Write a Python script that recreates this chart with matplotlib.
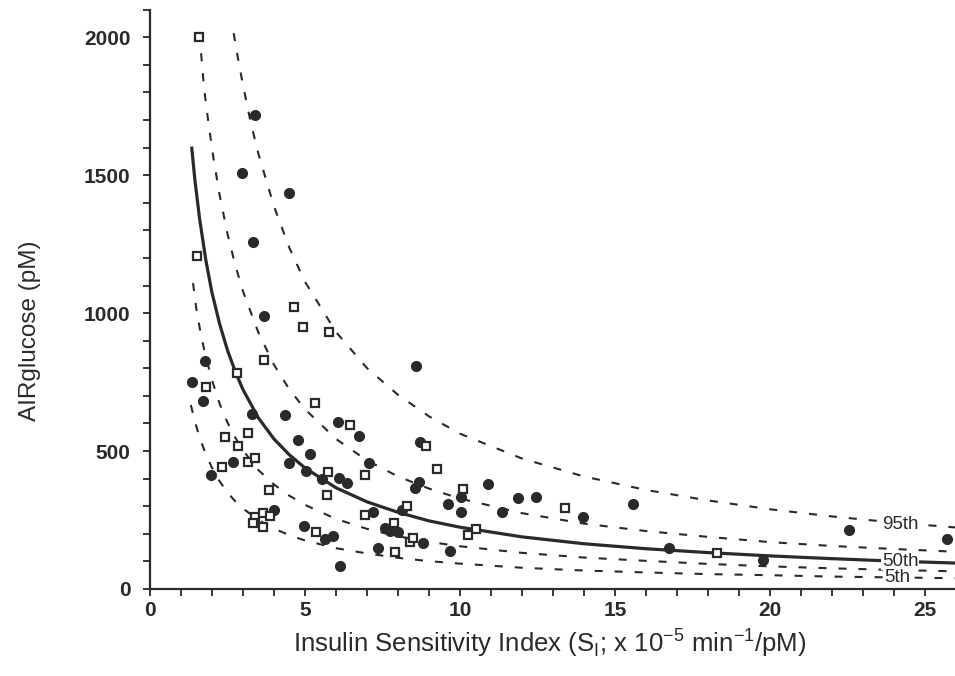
import matplotlib
matplotlib.use("Agg")
import matplotlib.pyplot as plt
from matplotlib.ticker import MultipleLocator

# filled circles
filled_x = [3.39, 2.97, 4.48, 3.32, 3.68, 1.77, 1.35, 1.71, 3.29, 4.35, 4.77, 5.16, 4.48,
            2.68, 5.03, 1.97, 4.0, 4.97, 5.65, 5.9, 6.13, 8.58, 6.06, 6.74, 7.06, 5.55,
            6.1, 6.35, 8.71, 8.68, 8.55, 10.03, 9.61, 10.03, 8.13, 7.19, 7.58, 7.74, 8.0,
            8.81, 9.68, 7.35, 10.9, 11.87, 12.45, 11.35, 13.97, 15.58, 16.74, 19.77,
            22.55, 25.71]
filled_y = [1717, 1507, 1435, 1257, 989, 826, 750, 681, 634, 630, 540, 489, 457,
            460, 428, 413, 286, 228, 181, 192, 83, 808, 605, 554, 457, 399,
            402, 384, 533, 388, 366, 333, 308, 279, 286, 279, 221, 210, 207,
            167, 138, 149, 380, 330, 333, 279, 261, 308, 149, 105,
            214, 181]

# open squares
open_x = [1.58, 1.52, 1.81, 2.81, 4.65, 4.94, 5.77, 3.68, 5.32, 2.42, 3.16, 2.84, 3.16,
          3.39, 2.32, 3.84, 3.39, 3.65, 3.87, 3.32, 3.65, 5.35, 6.45, 8.9, 5.74, 6.94,
          9.26, 10.1, 5.71, 8.29, 6.94, 10.52, 10.26, 7.87, 8.39, 8.48, 7.9, 13.39, 18.29]
open_y = [2000, 1207, 732, 783, 1022, 949, 931, 830, 674, 551, 565, 518, 460,
          475, 442, 359, 261, 275, 264, 239, 225, 207, 594, 518, 424, 413,
          435, 362, 341, 301, 268, 217, 196, 239, 170, 185, 134, 293, 130]

# percentile curves
p95_x = [2.7, 2.85, 3.0, 3.25, 3.5, 4.0, 4.5, 5, 6, 7, 8, 9, 10, 12, 14, 16, 18, 20, 22, 24, 26]
p95_y = [2015, 1918, 1827, 1692, 1577, 1388, 1236, 1114, 932, 801, 704, 626, 563, 473, 408,
         359, 321, 289, 263, 241, 223]
p75_x = [1.65, 1.75, 1.9, 2.05, 2.25, 2.5, 2.75, 3.0, 3.5, 4.0, 4.5, 5, 6, 7, 8, 9, 10,
         12, 14, 16, 18, 20, 22, 24, 26]
p75_y = [1942, 1811, 1679, 1561, 1427, 1288, 1175, 1080, 929, 813, 723, 652, 544, 466, 408,
         364, 328, 275, 237, 210, 189, 170, 156, 145, 135]
p50_x = [1.35, 1.45, 1.6, 1.8, 2.0, 2.25, 2.5, 2.75, 3.0, 3.5, 4.0, 4.5, 5, 6, 7, 8, 9, 10,
         12, 14, 16, 18, 20, 22, 24, 26]
p50_y = [1598, 1483, 1344, 1194, 1075, 960, 866, 789, 723, 620, 544, 486, 439, 367, 316, 278,
         247, 224, 189, 164, 146, 132, 120, 110, 101, 94]
p25_x = [1.39, 1.5, 1.65, 1.8, 2.0, 2.25, 2.5, 2.75, 3.0, 3.5, 4.0, 4.5, 5, 6, 7, 8, 9, 10,
         12, 14, 16, 18, 20, 22, 24, 26]
p25_y = [1109, 1013, 918, 842, 758, 671, 604, 549, 503, 431, 379, 338, 305, 254, 218, 191,
         171, 155, 131, 114, 102, 91, 82, 75, 69, 64]
p05_x = [1.32, 1.45, 1.6, 1.8, 2.0, 2.25, 2.5, 2.75, 3.0, 3.5, 4.0, 4.5, 5, 6, 7, 8, 9, 10,
         12, 14, 16, 18, 20, 22, 24, 26]
p05_y = [667, 607, 550, 489, 440, 390, 350, 318, 292, 250, 219, 195, 176, 148, 129, 113, 101,
         92, 77, 67, 60, 54, 50, 45, 42, 39]

curve_labels = ["95th", "50th", "5th"]
label_x = [24.2, 24.2, 24.1]
label_y = [232, 101, 40]

ink = "#2a2a2a"
plt.rcParams["font.family"] = ["Liberation Sans", "DejaVu Sans"]
plt.rcParams["lines.scale_dashes"] = False

fig = plt.figure(figsize=(9.55, 6.76), dpi=100)
ax = fig.add_axes([0.157, 0.1287, 0.844, 0.857])

dash = (0, (5.8, 8.6))
for xs, ys in [(p95_x, p95_y), (p75_x, p75_y), (p25_x, p25_y), (p05_x, p05_y)]:
    ax.plot(xs, ys, color=ink, lw=1.5, linestyle=dash, zorder=2)
ax.plot(p50_x, p50_y, color=ink, lw=2.3, zorder=2)

ax.plot(filled_x, filled_y, "o", ms=7, color=ink, mec=ink, zorder=3)
ax.plot(open_x, open_y, "s", ms=6, mfc="white", mec=ink, mew=1.6, zorder=3)

for lab, lx, ly in zip(curve_labels, label_x, label_y):
    ax.text(lx, ly, lab, ha="center", va="center", fontsize=13.5, color=ink, zorder=4,
            bbox=dict(facecolor="white", edgecolor="none", pad=0.5))

ax.set_xlim(0, 26)
ax.set_ylim(0, 2100)
ax.xaxis.set_major_locator(MultipleLocator(5))
ax.xaxis.set_minor_locator(MultipleLocator(1))
ax.yaxis.set_major_locator(MultipleLocator(500))
ax.yaxis.set_minor_locator(MultipleLocator(100))
ax.spines["top"].set_visible(False)
ax.spines["right"].set_visible(False)
for s in ["left", "bottom"]:
    ax.spines[s].set_linewidth(1.6)
    ax.spines[s].set_color(ink)
ax.tick_params(which="both", direction="out", length=5, width=1.3, color=ink)
ax.tick_params(axis="y", which="major", pad=9)
ax.tick_params(axis="x", which="major", pad=4)
for t in ax.get_xticklabels() + ax.get_yticklabels():
    t.set_fontsize(15)
    t.set_fontweight("bold")
    t.set_color(ink)

fig.text(550 / 955, 1 - 643 / 676,
         r"Insulin Sensitivity Index (S$_\mathregular{I}$; x 10$^\mathregular{-5}$ min$^\mathregular{-1}$/pM)",
         ha="center", va="center", fontsize=18.5, color=ink)
fig.text(30 / 955, 1 - 331 / 676, "AIRglucose (pM)", rotation=90,
         ha="center", va="center", fontsize=17.5, color=ink)

fig.savefig("out.png", dpi=100)
